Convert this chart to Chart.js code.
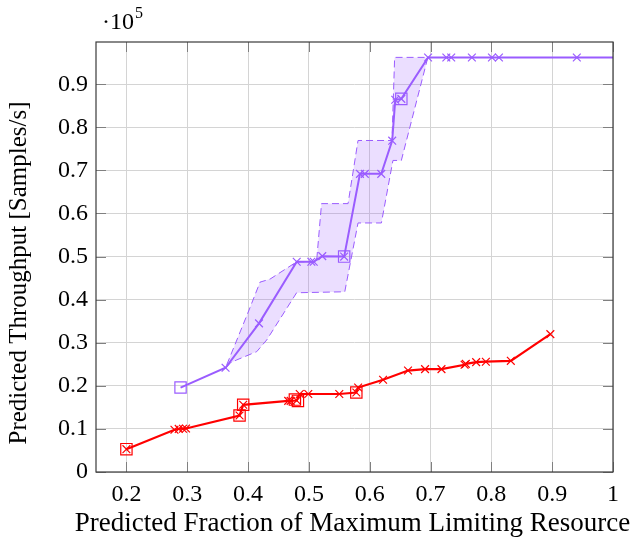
<!DOCTYPE html>
<html>
<head>
<meta charset="utf-8">
<script src="https://cdn.jsdelivr.net/npm/chart.js@4/dist/chart.umd.min.js"></script>
<style>
  html, body { margin: 0; padding: 0; background: #fff; }
  #wrap { width: 636px; height: 541px; }
</style>
</head>
<body>
<div id="wrap"><canvas id="chart"></canvas></div>
<script>
// ============ Data (throughput in units of 1e5 samples/s) ============
const purpleX = [0.289, 0.363, 0.418, 0.480, 0.504, 0.508, 0.522, 0.558, 0.584, 0.592, 0.619,
                 0.637, 0.642, 0.652, 0.696, 0.726, 0.734, 0.768, 0.801, 0.8125, 0.9405, 1.0];
const purpleY = [0.196, 0.242, 0.345, 0.488, 0.488, 0.488, 0.501, 0.500, 0.692, 0.692, 0.692,
                 0.769, 0.864, 0.866, 0.962, 0.962, 0.962, 0.962, 0.962, 0.962, 0.962, 0.962];

const purpleSqX = [0.289, 0.558, 0.652];
const purpleSqY = [0.196, 0.500, 0.866];

// spread band around the purple run (outline, traced clockwise)
const bandX = [0.365, 0.4016, 0.4197, 0.4361, 0.4798, 0.5126, 0.5208, 0.5644, 0.5808, 0.6366, 0.641, 0.6956,
               0.652, 0.6382, 0.6192, 0.5808, 0.559, 0.4798, 0.4307, 0.4143, 0.3815, 0.365];
const bandY = [0.249, 0.3759, 0.4407, 0.4477, 0.4877, 0.4877, 0.6229, 0.6229, 0.7694, 0.7694, 0.9623, 0.9623,
               0.7231, 0.7231, 0.578, 0.578, 0.4183, 0.416, 0.3065, 0.2794, 0.2602, 0.249];

const redX = [0.200, 0.279, 0.286, 0.293, 0.298, 0.386, 0.392, 0.466, 0.470, 0.480, 0.485, 0.499,
              0.550, 0.578, 0.581, 0.622, 0.663, 0.691, 0.718, 0.756, 0.758, 0.775, 0.791, 0.832, 0.897];
const redY = [0.053, 0.098, 0.100, 0.1005, 0.101, 0.131, 0.156, 0.165, 0.165, 0.166, 0.181, 0.181,
              0.181, 0.1845, 0.196, 0.214, 0.2355, 0.2387, 0.2387, 0.249, 0.251, 0.255, 0.256, 0.258, 0.320];

const redSqX = [0.200, 0.386, 0.392, 0.477, 0.482, 0.578];
const redSqY = [0.053, 0.131, 0.156, 0.168, 0.165, 0.1845];

const xTicks = [0.2, 0.3, 0.4, 0.5, 0.6, 0.7, 0.8, 0.9, 1];
const yTicks = [0, 0.1, 0.2, 0.3, 0.4, 0.5, 0.6, 0.7, 0.8, 0.9];

const xTitle = 'Predicted Fraction of Maximum Limiting Resource';
const yTitle = 'Predicted Throughput [Samples/s]';

const PURPLE = '#9a5cff';
const RED = '#ff0000';
const SERIF = '"Liberation Serif", "Times New Roman", serif';

const pts = (xs, ys) => xs.map((x, i) => ({ x, y: ys[i] }));

// ============ Box, inner tick marks, axis titles, exponent label ============
const frame = {
    id: 'frame',
    afterDatasetsDraw(chart) {
        const { ctx, chartArea: a, scales } = chart;
        ctx.save();
        ctx.strokeStyle = '#808080';
        ctx.lineWidth = 1;
        ctx.beginPath();
        xTicks.forEach(v => {
            const px = Math.round(scales.x.getPixelForValue(v)) + 0.5;
            ctx.moveTo(px, a.bottom); ctx.lineTo(px, a.bottom - 10);
            ctx.moveTo(px, a.top); ctx.lineTo(px, a.top + 10);
        });
        yTicks.forEach(v => {
            const py = Math.round(scales.y.getPixelForValue(v)) + 0.5;
            ctx.moveTo(a.left, py); ctx.lineTo(a.left + 10, py);
            ctx.moveTo(a.right, py); ctx.lineTo(a.right - 10, py);
        });
        ctx.stroke();

        ctx.strokeStyle = '#3a3a3a';
        ctx.lineWidth = 1.2;
        ctx.strokeRect(a.left, a.top, a.right - a.left, a.bottom - a.top);

        ctx.fillStyle = '#000';
        ctx.textBaseline = 'alphabetic';
        ctx.font = '24px ' + SERIF;
        ctx.fillText('\u00b710', a.left + 6, a.top - 13);
        const w = ctx.measureText('\u00b710').width;
        ctx.font = '16px ' + SERIF;
        ctx.fillText('5', a.left + 7 + w, a.top - 24);

        // axis titles (allowed to run wider than the plot, as in the original)
        ctx.textAlign = 'center';
        ctx.textBaseline = 'middle';
        ctx.font = '27px ' + SERIF;
        ctx.fillText(xTitle, (a.left + a.right) / 2 - 2, chart.height - 17);
        ctx.translate(19, (a.top + a.bottom) / 2 + 16);
        ctx.rotate(-Math.PI / 2);
        ctx.font = '25px ' + SERIF;
        ctx.fillText(yTitle, 0, 0);
        ctx.restore();
    }
};

new Chart(document.getElementById('chart'), {
    type: 'scatter',
    data: {
        datasets: [
            {
                data: pts(redSqX, redSqY),
                pointStyle: 'rect',
                pointRadius: 8,
                pointBorderWidth: 1.2,
                borderColor: RED,
                backgroundColor: 'rgba(0,0,0,0)',
                showLine: false
            },
            {
                data: pts(redX, redY),
                showLine: true,
                borderColor: RED,
                backgroundColor: RED,
                borderWidth: 2.2,
                pointStyle: 'crossRot',
                pointRadius: 5.5,
                pointBorderWidth: 1.2,
                fill: false
            },
            {
                data: pts(purpleSqX, purpleSqY),
                pointStyle: 'rect',
                pointRadius: 8,
                pointBorderWidth: 1.2,
                borderColor: PURPLE,
                backgroundColor: 'rgba(0,0,0,0)',
                showLine: false
            },
            {
                data: pts(purpleX, purpleY),
                showLine: true,
                borderColor: PURPLE,
                backgroundColor: PURPLE,
                borderWidth: 2,
                pointStyle: 'crossRot',
                pointRadius: c => (c.dataIndex === 0 || c.dataIndex === purpleX.length - 1) ? 0 : 5.5,
                pointBorderWidth: 1.2,
                fill: false
            },
            {
                data: pts(bandX, bandY),
                showLine: true,
                borderColor: PURPLE,
                borderWidth: 1,
                borderDash: [7, 4],
                backgroundColor: 'rgba(154, 92, 255, 0.2)',
                pointRadius: 0,
                fill: 'shape'
            }
        ]
    },
    options: {
        responsive: true,
        maintainAspectRatio: false,
        animation: false,
        layout: { padding: { left: 0, right: 23, top: 42, bottom: 0 } },
        plugins: {
            legend: { display: false },
            tooltip: { enabled: false }
        },
        scales: {
            x: {
                type: 'linear',
                min: 0.15,
                max: 1,
                afterBuildTicks: s => { s.ticks = xTicks.map(v => ({ value: v })); },
                afterFit: s => { s.height = 69; },
                grid: { color: '#d4d4d4', lineWidth: 1, drawTicks: false },
                border: { display: false },
                ticks: {
                    padding: 8,
                    color: '#000',
                    font: { family: SERIF, size: 24 },
                    callback: v => String(v)
                }
            },
            y: {
                type: 'linear',
                min: 0,
                max: 0.998,
                afterBuildTicks: s => { s.ticks = yTicks.map(v => ({ value: v })); },
                afterFit: s => { s.width = 96; },
                grid: { color: '#d4d4d4', lineWidth: 1, drawTicks: false },
                border: { display: false },
                ticks: {
                    padding: 8,
                    color: '#000',
                    font: { family: SERIF, size: 24 },
                    callback: v => String(v)
                }
            }
        }
    },
    plugins: [frame]
});
</script>
</body>
</html>
